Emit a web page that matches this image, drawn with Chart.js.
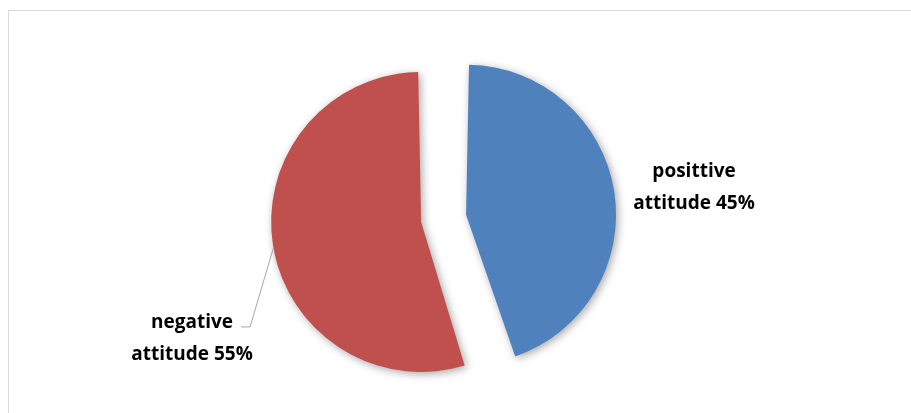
<!DOCTYPE html>
<html>
<head>
<meta charset="utf-8">
<script src="https://cdn.jsdelivr.net/npm/chart.js@4"></script>
<style>
  html, body { margin: 0; padding: 0; background: #fff; }
  #wrap { position: relative; width: 911px; height: 413px; overflow: hidden; }
  #frame { position: absolute; left: 8px; top: 10px; width: 1000px; height: 500px;
           border-top: 1px solid #d9d9d9; border-left: 1px solid #d9d9d9; }
  canvas { position: absolute; left: 0; top: 0; }
</style>
</head>
<body>
<div id="wrap">
  <div id="frame"></div>
  <canvas id="myChart" width="911" height="413"></canvas>
</div>
<script>
const categories = ['posittive attitude', 'negative attitude'];
const labelLines = [['posittive', 'attitude 45%'], ['negative', 'attitude 55%']];
const values = [45, 55];
const colors = ['#4F81BD', '#C0504D'];

// soft shadow under the slices
const shadowPlugin = {
  id: 'shadow',
  beforeDatasetDraw(chart) {
    const ctx = chart.ctx;
    ctx.save();
    ctx.shadowColor = 'rgba(0,0,0,0.35)';
    ctx.shadowBlur = 9;
    ctx.shadowOffsetX = 2;
    ctx.shadowOffsetY = 2;
  },
  afterDatasetDraw(chart) {
    chart.ctx.restore();
  }
};

// where chart.js actually paints an exploded arc (v4 moves it by offset/4)
function drawnArc(arc) {
  const off = (arc.options.offset || 0) / 4;
  const mid = (arc.startAngle + arc.endAngle) / 2;
  const fix = 1 - Math.sin(Math.min(Math.PI, arc.circumference));
  return {
    x: arc.x + Math.cos(mid) * off,
    y: arc.y + Math.sin(mid) * off,
    r: arc.outerRadius + off * fix
  };
}

// outside labels, placed relative to each arc
const labelPlugin = {
  id: 'outLabels',
  afterDatasetsDraw(chart) {
    const ctx = chart.ctx;
    const arcs = chart.getDatasetMeta(0).data;
    ctx.save();
    ctx.font = 'bold 19px "Open Sans", sans-serif';
    ctx.fillStyle = '#000';
    ctx.textAlign = 'center';
    ctx.textBaseline = 'middle';
    arcs.forEach((arc, i) => {
      const d = drawnArc(arc);
      let cx, cy;
      if (i === 0) {
        cx = d.x + d.r * 1.52;
        cy = d.y - d.r * 0.183;
      } else {
        cx = d.x - d.r * 1.527;
        cy = d.y + d.r * 0.78;
        // leader line
        const ang = Math.PI - Math.atan2(26, 148);
        const px = d.x + d.r * Math.cos(ang);
        const py = d.y + d.r * Math.sin(ang);
        ctx.strokeStyle = '#a6a6a6';
        ctx.lineWidth = 1;
        ctx.beginPath();
        ctx.moveTo(px, py);
        ctx.lineTo(cx + 58, cy - 12);
        ctx.lineTo(cx + 49, cy - 12);
        ctx.stroke();
      }
      ctx.fillText(labelLines[i][0], cx, cy - 16);
      ctx.fillText(labelLines[i][1], cx, cy + 16);
    });
    ctx.restore();
  }
};

const data = {
  labels: categories,
  datasets: [{
    data: values,
    backgroundColor: colors,
    borderWidth: 0,
    offset: [107.6, 74.4],
    radius: 131.4
  }]
};

const config = {
  type: 'pie',
  data: data,
  options: {
    responsive: false,
    animation: false,
    layout: { padding: { left: 0, right: 32, top: 25, bottom: 0 } },
    plugins: {
      legend: { display: false },
      tooltip: { enabled: false }
    }
  },
  plugins: [shadowPlugin, labelPlugin]
};

const myChart = new Chart(document.getElementById('myChart'), config);
</script>
</body>
</html>
